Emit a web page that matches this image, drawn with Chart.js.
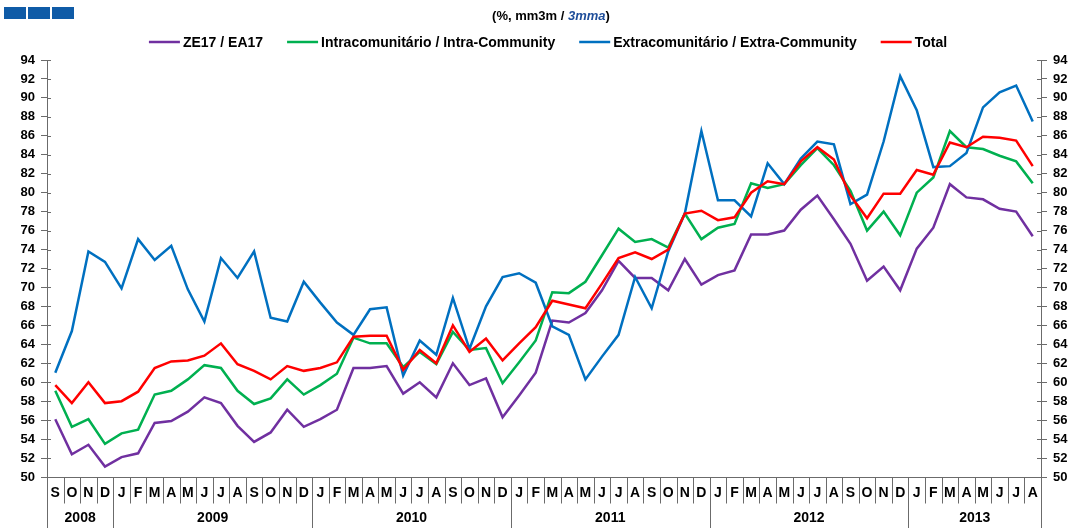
<!DOCTYPE html>
<html>
<head>
<meta charset="utf-8">
<script src="https://cdn.jsdelivr.net/npm/chart.js@4.4.1/dist/chart.umd.min.js"></script>
<style>
  html, body { margin: 0; padding: 0; background: #fff; }
  #wrap { width: 1075px; height: 528px; position: relative; }
</style>
</head>
<body>
<div id="wrap"><canvas id="chart"></canvas></div>
<script>
/* -----------------------------
   DATA
----------------------------- */
const months = [
  "S","O","N","D",
  "J","F","M","A","M","J","J","A","S","O","N","D",
  "J","F","M","A","M","J","J","A","S","O","N","D",
  "J","F","M","A","M","J","J","A","S","O","N","D",
  "J","F","M","A","M","J","J","A","S","O","N","D",
  "J","F","M","A","M","J","J","A"
];
const years = ["2008", "2009", "2010", "2011", "2012", "2013"];
const monthsPerYear = [4, 12, 12, 12, 12, 8];

const ea17 = [
  56.1, 52.4, 53.4, 51.1,
  52.1, 52.5, 55.7, 55.9, 56.9, 58.4, 57.8, 55.4, 53.7, 54.7, 57.1, 55.3,
  56.1, 57.1, 61.5, 61.5, 61.7, 58.8, 60.0, 58.4, 62.0, 59.7, 60.4, 56.3,
  58.6, 61.0, 66.5, 66.3, 67.3, 69.7, 72.8, 71.0, 71.0, 69.7, 73.0, 70.3,
  71.3, 71.8, 75.6, 75.6, 76.0, 78.2, 79.7, 77.2, 74.6, 70.7, 72.2, 69.7,
  74.1, 76.3, 80.9, 79.5, 79.3, 78.3, 78.0, 75.4
];
const intra = [
  59.1, 55.3, 56.1, 53.5,
  54.6, 55.0, 58.7, 59.1, 60.3, 61.8, 61.5, 59.1, 57.7, 58.3, 60.3, 58.7,
  59.7, 60.9, 64.7, 64.1, 64.1, 61.6, 63.2, 61.9, 65.3, 63.4, 63.6, 59.9,
  62.1, 64.4, 69.5, 69.4, 70.6, 73.4, 76.2, 74.8, 75.1, 74.2, 77.8, 75.1,
  76.3, 76.7, 81.0, 80.5, 80.9, 82.9, 84.7, 82.9, 80.2, 76.0, 78.0, 75.5,
  80.0, 81.6, 86.5, 84.8, 84.6, 83.9, 83.3, 81.0
];
const extra = [
  61.0, 65.4, 73.8, 72.7,
  69.9, 75.1, 72.9, 74.4, 69.8, 66.4, 73.1, 71.0, 73.8, 66.8, 66.4, 70.6,
  68.4, 66.3, 65.0, 67.7, 67.9, 60.7, 64.4, 62.9, 68.9, 63.5, 68.0, 71.1,
  71.5, 70.5, 65.9, 65.0, 60.3, 62.7, 65.0, 71.1, 67.8, 73.8, 77.8, 86.5,
  79.2, 79.2, 77.5, 83.1, 80.9, 83.6, 85.4, 85.1, 78.8, 79.8, 85.4, 92.3,
  88.7, 82.7, 82.8, 84.2, 89.0, 90.6, 91.3, 87.5
];
const total = [
  59.7, 57.8, 60.0, 57.8,
  58.0, 59.0, 61.5, 62.2, 62.3, 62.8, 64.1, 61.9, 61.2, 60.3, 61.7, 61.2,
  61.5, 62.1, 64.8, 64.9, 64.9, 61.3, 63.4, 62.0, 66.0, 63.2, 64.6, 62.3,
  64.1, 65.8, 68.6, 68.2, 67.8, 70.4, 73.1, 73.7, 73.0, 74.0, 77.8, 78.1,
  77.1, 77.4, 80.0, 81.2, 80.9, 83.3, 84.8, 83.5, 79.7, 77.3, 79.9, 79.9,
  82.4, 81.9, 85.3, 84.8, 85.9, 85.8, 85.5, 82.8
];

const FONT = "'Liberation Sans', Arial, sans-serif";
const axisColor = "#6b6b6b";

/* -----------------------------
   HEADER: logo boxes, subtitle, legend
----------------------------- */
const headerPlugin = {
  id: "headerPlugin",
  afterDraw(chart) {
    const ctx = chart.ctx;
    ctx.save();

    // logo boxes top-left
    ctx.fillStyle = "#0f5ba7";
    [4, 28, 52].forEach(x0 => ctx.fillRect(x0, 7, 22, 12));

    // subtitle "(%, mm3m / 3mma)"
    const partA = "(%, mm3m / ";
    const partB = "3mma";
    const partC = ")";
    ctx.textBaseline = "middle";
    ctx.font = "bold 13px " + FONT;
    const wA = ctx.measureText(partA).width;
    const wC = ctx.measureText(partC).width;
    ctx.font = "italic bold 13px " + FONT;
    const wB = ctx.measureText(partB).width;
    const sx = 551 - (wA + wB + wC) / 2;
    ctx.textAlign = "left";
    ctx.fillStyle = "#000";
    ctx.font = "bold 13px " + FONT;
    ctx.fillText(partA, sx, 16);
    ctx.fillStyle = "#1f4e9a";
    ctx.font = "italic bold 13px " + FONT;
    ctx.fillText(partB, sx + wA, 16);
    ctx.fillStyle = "#000";
    ctx.font = "bold 13px " + FONT;
    ctx.fillText(partC, sx + wA + wB, 16);

    // legend
    ctx.font = "bold 14px " + FONT;
    const items = chart.data.datasets.map(ds => ({
      text: ds.label, color: ds.borderColor, w: ctx.measureText(ds.label).width
    }));
    const lineLen = 31, gap = 3, spacing = 24;
    const totalW = items.reduce((s, it) => s + lineLen + gap + it.w, 0) + spacing * (items.length - 1);
    let lx = 548 - totalW / 2;
    const ly = 42;
    items.forEach(it => {
      ctx.strokeStyle = it.color;
      ctx.lineWidth = 2.5;
      ctx.beginPath();
      ctx.moveTo(lx, ly);
      ctx.lineTo(lx + lineLen, ly);
      ctx.stroke();
      ctx.fillStyle = "#000";
      ctx.fillText(it.text, lx + lineLen + gap, ly + 1);
      lx += lineLen + gap + it.w + spacing;
    });
    ctx.restore();
  }
};

/* -----------------------------
   TWO-LEVEL X AXIS (months / years)
----------------------------- */
const xAxisPlugin = {
  id: "xAxisPlugin",
  afterDraw(chart) {
    const { ctx, chartArea } = chart;
    const x = chart.scales.x;
    const bottom = Math.round(chartArea.bottom) + 0.5;
    const half = (x.getPixelForValue(1) - x.getPixelForValue(0)) / 2;
    const edge = v => Math.round(v) + 0.5;

    ctx.save();
    ctx.strokeStyle = axisColor;
    ctx.lineWidth = 1;
    ctx.beginPath();
    ctx.moveTo(chartArea.left, bottom);
    ctx.lineTo(chartArea.right, bottom);
    ctx.stroke();

    // small inner part of the y tick marks
    ["y", "y1"].forEach(id => {
      const s = chart.scales[id];
      const xs = id === "y" ? chartArea.left : chartArea.right;
      const dir = id === "y" ? 1 : -1;
      s.ticks.forEach(t => {
        const py = edge(s.getPixelForValue(t.value));
        ctx.beginPath();
        ctx.moveTo(xs, py);
        ctx.lineTo(xs + dir * 4, py);
        ctx.stroke();
      });
    });

    ctx.fillStyle = "#000";
    ctx.textAlign = "center";
    ctx.textBaseline = "middle";
    ctx.font = "bold 14px " + FONT;

    months.forEach((m, i) => {
      const cx = x.getPixelForValue(i);
      ctx.beginPath();
      ctx.moveTo(edge(cx - half), bottom);
      ctx.lineTo(edge(cx - half), bottom + 26);
      ctx.stroke();
      ctx.fillText(m, cx, bottom + 16);
    });

    ctx.font = "bold 14px " + FONT;
    let start = 0;
    years.forEach((yr, k) => {
      const n = monthsPerYear[k];
      const x0 = x.getPixelForValue(start) - half;
      const x1 = x.getPixelForValue(start + n - 1) + half;
      ctx.beginPath();
      ctx.moveTo(edge(x0), bottom);
      ctx.lineTo(edge(x0), chart.height);
      ctx.stroke();
      if (k === years.length - 1) {
        ctx.beginPath();
        ctx.moveTo(edge(x1), bottom);
        ctx.lineTo(edge(x1), chart.height);
        ctx.stroke();
      }
      ctx.fillText(yr, (x0 + x1) / 2, bottom + 41);
      start += n;
    });
    ctx.restore();
  }
};

/* -----------------------------
   CHART
----------------------------- */
const yTicks = {
  stepSize: 2,
  autoSkip: false,
  color: "#000",
  padding: 6,
  font: { family: FONT, weight: "bold", size: 13 }
};
const yGrid = {
  drawOnChartArea: false,
  drawTicks: true,
  tickLength: 6,
  color: axisColor
};

new Chart(document.getElementById("chart"), {
  type: "line",
  data: {
    labels: months,
    datasets: [
      { label: "ZE17 / EA17", data: ea17, borderColor: "#7030a0", order: 3 },
      { label: "Intracomunitário / Intra-Community", data: intra, borderColor: "#00b050", order: 2 },
      { label: "Extracomunitário / Extra-Community", data: extra, borderColor: "#0070c0", order: 1 },
      { label: "Total", data: total, borderColor: "#ff0000", order: 0 }
    ]
  },
  options: {
    responsive: true,
    maintainAspectRatio: false,
    animation: false,
    devicePixelRatio: 1,
    layout: { padding: { top: 60, left: 0, right: 0, bottom: 0 } },
    elements: {
      line: { borderWidth: 2.5, tension: 0, fill: false },
      point: { radius: 0, hoverRadius: 0 }
    },
    plugins: {
      legend: { display: false },
      tooltip: { enabled: false }
    },
    scales: {
      x: {
        type: "category",
        offset: true,
        grid: { display: false },
        border: { display: false },
        ticks: { display: false },
        afterFit: s => { s.height = 51; }
      },
      y: {
        position: "left",
        min: 50,
        max: 94,
        ticks: yTicks,
        grid: yGrid,
        border: { display: true, color: axisColor, width: 1 },
        afterFit: s => { s.width = 47; }
      },
      y1: {
        position: "right",
        min: 50,
        max: 94,
        ticks: yTicks,
        grid: yGrid,
        border: { display: true, color: axisColor, width: 1 },
        afterFit: s => { s.width = 34; }
      }
    }
  },
  plugins: [headerPlugin, xAxisPlugin]
});
</script>
</body>
</html>
